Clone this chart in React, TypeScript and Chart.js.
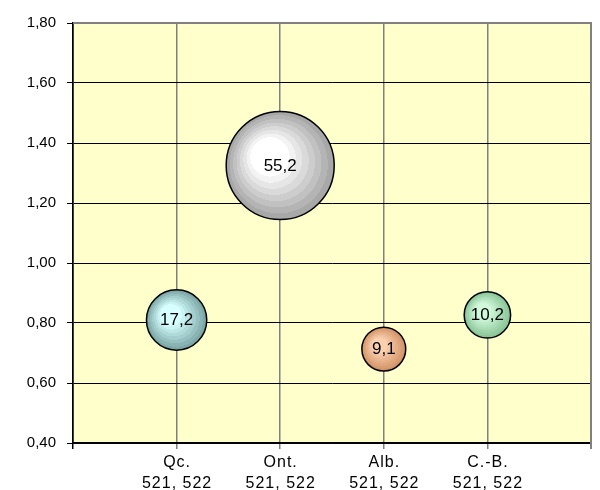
import React, { useEffect, useRef } from "react";
import { Chart, registerables } from "chart.js";

Chart.register(...registerables);

const categories = ["Qc.", "Ont.", "Alb.", "C.-B."];
const subLabel = "521, 522";
const yValues = [0.81, 1.325, 0.713, 0.827];
const sizes = [17.2, 55.2, 9.1, 10.2];
const sizeLabels = ["17,2", "55,2", "9,1", "10,2"];
const centerColors = [[215, 255, 255], [255, 255, 255], [250, 208, 175], [210, 248, 220]];
const edgeColors = [[125, 168, 168], [168, 168, 168], [212, 148, 105], [138, 198, 152]];

const FONT = "'Liberation Sans', Arial, sans-serif";
const RADIUS_K = 7.27;

function lerp(a: number[], b: number[], t: number) {
  return `rgb(${a.map((v, i) => Math.round(v + (b[i] - v) * t)).join(",")})`;
}

const bgPlugin = {
  id: "bgPlugin",
  beforeDraw(chart: any) {
    const { ctx, chartArea: a } = chart;
    ctx.save();
    ctx.fillStyle = "#FFFFCC";
    ctx.fillRect(a.left, a.top, a.right - a.left, a.bottom - a.top);
    ctx.restore();
  },
  afterDraw(chart: any) {
    const { ctx, chartArea: a } = chart;
    ctx.save();
    ctx.lineWidth = 2;
    ctx.strokeStyle = "#808080";
    ctx.beginPath();
    ctx.moveTo(a.left, a.top);
    ctx.lineTo(a.right, a.top);
    ctx.lineTo(a.right, a.bottom + 6);
    ctx.stroke();
    // x category labels (two lines), positioned via the x scale
    const xs = chart.scales.x;
    ctx.font = `16px ${FONT}`;
    ctx.fillStyle = "#000";
    ctx.textAlign = "center";
    ctx.textBaseline = "alphabetic";
    try {
      (ctx as any).letterSpacing = "1px";
    } catch (e) {}
    categories.forEach((c, i) => {
      const px = xs.getPixelForValue(i + 1) + 0.5;
      ctx.fillText(c, px, a.bottom + 24);
      ctx.fillText(subLabel, px, a.bottom + 45);
    });
    ctx.restore();
  },
  afterDatasetsDraw(chart: any) {
    const { ctx } = chart;
    const meta = chart.getDatasetMeta(0);
    ctx.save();
    ctx.font = `17px ${FONT}`;
    ctx.fillStyle = "#000";
    ctx.textAlign = "center";
    ctx.textBaseline = "alphabetic";
    meta.data.forEach((el: any, i: number) => {
      ctx.fillText(sizeLabels[i], el.x, el.y + 5);
    });
    ctx.restore();
  },
};

export default function App() {
  const ref = useRef<HTMLCanvasElement>(null);
  useEffect(() => {
    const data = categories.map((_, i) => ({
      x: i + 1,
      y: yValues[i],
      r: RADIUS_K * Math.sqrt(sizes[i]),
    }));
    const chart = new Chart(ref.current!, {
      type: "bubble",
      data: {
        datasets: [
          {
            data,
            borderColor: "#000",
            borderWidth: 1.5,
            backgroundColor: (c: any) => {
              const chart = c.chart;
              const xs = chart.scales?.x;
              const ys = chart.scales?.y;
              const i = c.dataIndex ?? 0;
              const fallback = lerp(centerColors[i] || [200, 200, 200], edgeColors[i] || [100, 100, 100], 0.5);
              if (!xs || !ys || !c.raw) return fallback;
              const cx = xs.getPixelForValue(c.raw.x);
              const cy = ys.getPixelForValue(c.raw.y);
              const r = c.raw.r;
              if (![cx, cy, r].every((v) => Number.isFinite(v))) return fallback;
              const g = chart.ctx.createRadialGradient(cx - 0.3 * r, cy - 0.25 * r, 0, cx, cy, r);
              const N = 11;
              for (let k = 0; k < N; k++) {
                const t = Math.max(0, (k - 3) / (N - 4));
                const col = lerp(centerColors[i], edgeColors[i], t);
                g.addColorStop(k / N, col);
                g.addColorStop((k + 1) / N - 0.0001, col);
              }
              return g;
            },
          },
        ],
      },
      options: {
        animation: false,
        responsive: false,
        maintainAspectRatio: false,
        layout: { padding: { top: 23, right: 9, left: 0, bottom: 0 } },
        plugins: { legend: { display: false }, tooltip: { enabled: false } },
        scales: {
          x: {
            type: "linear",
            min: 0,
            max: 5,
            afterFit: (s: any) => {
              s.height = 47;
            },
            ticks: {
              stepSize: 1,
              autoSkip: false,
              maxRotation: 0,
              padding: 3,
              color: "#000",
              font: { family: FONT, size: 14 },
              callback: () => "",
            },
            grid: {
              color: (c: any) => (c.index === 0 ? "#000" : "#808080"),
              lineWidth: 1.5,
              tickLength: 6,
            },
            border: { color: "#000", width: 1.5 },
          },
          y: {
            min: 0.4,
            max: 1.8,
            afterFit: (s: any) => {
              s.width = 73;
            },
            ticks: {
              stepSize: 0.2,
              padding: 11,
              color: "#000",
              font: { family: FONT, size: 15 },
              callback: (v: any) => Number(v).toFixed(2).replace(".", ","),
            },
            grid: {
              color: "#000",
              lineWidth: 1,
              tickLength: 6,
            },
            border: { color: "#000", width: 1.5 },
          },
        },
      },
      plugins: [bgPlugin],
    } as any);
    const ctrl: any = chart.getDatasetMeta(0).controller;
    ctrl.getMaxOverflow = () => false;
    chart.update();
    return () => chart.destroy();
  }, []);
  return (
    <div style={{ position: "fixed", left: 0, top: 0, width: 600, height: 490, background: "#fff" }}>
      <canvas ref={ref} width={600} height={490} style={{ width: 600, height: 490, display: "block" }} />
    </div>
  );
}
